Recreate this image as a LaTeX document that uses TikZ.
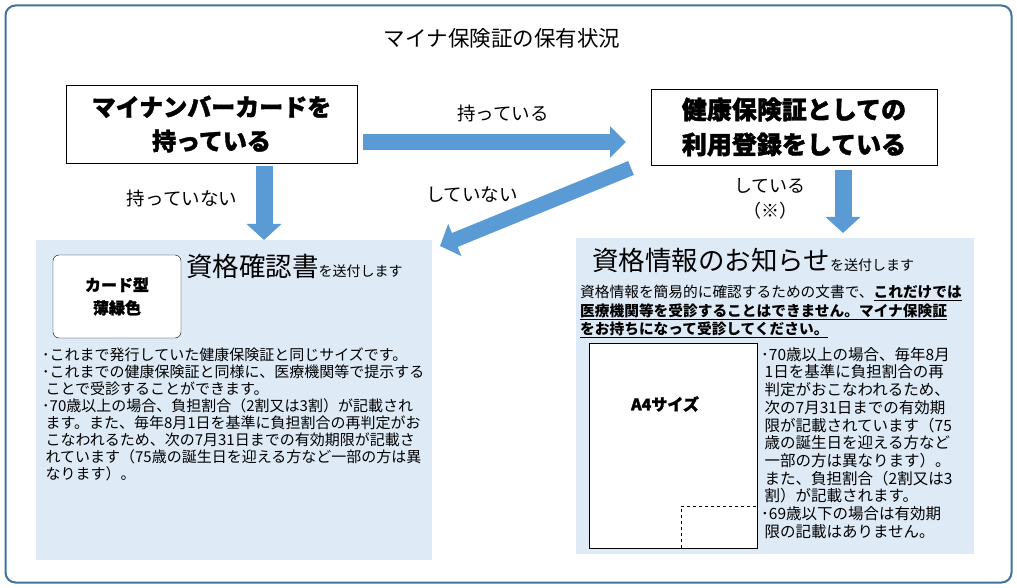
\documentclass[tikz,border=0pt]{standalone}
\usepackage{fontspec}
\setmainfont{Noto Sans CJK JP}
\usepackage{tikz}
\usetikzlibrary{arrows.meta, positioning}
\definecolor{frameblue}{HTML}{41719C}
\definecolor{arrowblue}{HTML}{5B9BD5}
\definecolor{panelblue}{HTML}{DEEBF7}
\newcommand{\heavy}{\bfseries\addfontfeatures{FakeBold=1.5}}
\tikzset{
x=1pt, y=-1pt, % one unit is one pixel of the reference, y grows downward
question/.style={draw, thick, fill=white, minimum width=291pt, minimum height=78pt, align=center, font=\fontsize{24}{34}\selectfont\heavy}, % the two question boxes
panel/.style={fill=panelblue, inner sep=0pt}, % light blue result panels
fatarrow/.style={draw=arrowblue, line width=17pt, -{Triangle[length=16pt, width=34pt]}}, % the thick blue arrows
answer/.style={font=\fontsize{18.5}{22}\selectfont, align=center}, % labels next to the arrows
bodytext/.style={anchor=north west, inner sep=0pt, align=left}, % bullet texts
}

\begin{document}
\begin{tikzpicture}
        \useasboundingbox (0,0) rectangle (1017,588);
        \node[draw=frameblue, line width=2pt, rounded corners=10pt, minimum width=1006pt, minimum height=577pt] (frame) at (508.5,294) {};
        \node[font=\fontsize{21.5}{24}\selectfont] (title) at (502,38) {マイナ保険証の保有状況};

        \node[question] (card) at (211.5,124) {マイナンバーカードを\\持っている};
        \node[question, minimum width=286pt, minimum height=76pt, font=\fontsize{25}{35}\selectfont\heavy] (regist) at (794,127) {健康保険証としての\\利用登録をしている};

        \node[panel, minimum width=396pt, minimum height=320pt] (left) at (234,400) {};
        \node[panel, minimum width=398pt, minimum height=316pt] (right) at (775,396) {};

        % arrows
        \coordinate (hasA) at (363,142);
        \coordinate (hasB) at (626,142);
        \coordinate (noA) at (264,166);
        \coordinate (noB) at (264,240);
        \coordinate (notA) at (631,168);
        \coordinate (notB) at (440,246);
        \coordinate (doneA) at (843,170);
        \coordinate (doneB) at (843,233);
        \draw[fatarrow, line width=16pt, -{Triangle[length=16pt, width=31pt]}] (hasA) -- (hasB);
        \draw[fatarrow] (noA) -- (noB);
        \draw[fatarrow, line width=15pt] (notA) -- (notB);
        \draw[fatarrow] (doneA) -- (doneB);
        \node[answer] (lhas) at (503,113) {持っている};
        \node[answer] (lno) at (182,198) {持っていない};
        \node[answer] (lnot) at (472,195) {していない};
        \node[answer, font=\fontsize{18}{25}\selectfont] (ldone) at (770,199) {している\\（※）};

        % left panel
        \node[draw, fill=white, rounded corners=6pt, minimum width=128pt, minimum height=83pt, align=center, font=\fontsize{16}{23}\selectfont\heavy] (greencard) at (117,296.5) {カード型\\薄緑色};
        \node[anchor=base west, inner sep=0pt] (certif) at (186,276) {{\fontsize{26.5}{26}\selectfont 資格確認書}{\fontsize{14}{14}\selectfont を送付します}};
        \node[bodytext, font=\fontsize{15}{17}\selectfont] (leftnote) at (42,347.5) {%
･これまで発行していた健康保険証と同じサイズです。\\
･これまでの健康保険証と同様に、医療機関等で提示する\\
\ ことで受診することができます。\\
･70歳以上の場合、負担割合（2割又は3割）が記載され\\
\ ます。また、毎年8月1日を基準に負担割合の再判定がお\\
\ こなわれるため、次の7月31日までの有効期限が記載さ\\
\ れています（75歳の誕生日を迎える方など一部の方は異\\
\ なります）。};

        % right panel
        \node[anchor=base west, inner sep=0pt] (notice) at (592,270) {{\fontsize{26.5}{26}\selectfont 資格情報のお知らせ}{\fontsize{14}{14}\selectfont を送付します}};
        \node[bodytext, font=\fontsize{14.7}{18.5}\selectfont] (rightlead) at (580,285) {%
資格情報を簡易的に確認するための文書で、\underline{\bfseries これだけでは}\\
\underline{\bfseries 医療機関等を受診することはできません。マイナ保険証}\\
\underline{\bfseries をお持ちになって受診してください。}};
        \node[draw, fill=white, minimum width=168pt, minimum height=205pt, inner sep=0pt] (a4) at (673,445.5) {};
        \node[font=\fontsize{16}{18}\selectfont\heavy] (a4label) at (665,404) {A4サイズ};
        \coordinate (stamp) at (681,506);
        \draw[dashed] (stamp |- a4.south) -- (stamp) -- (stamp -| a4.east);
        \node[bodytext, font=\fontsize{15.5}{17.7}\selectfont] (rightnote) at (761,347) {%
･70歳以上の場合、毎年8月\\
\ 1日を基準に負担割合の再\\
\ 判定がおこなわれるため、\\
\ 次の7月31日までの有効期\\
\ 限が記載されています（75\\
\ 歳の誕生日を迎える方など\\
\ 一部の方は異なります）。\\
\ また、負担割合（2割又は3\\
\ 割）が記載されます。\\
･69歳以下の場合は有効期\\
\ 限の記載はありません。};
      \end{tikzpicture}
\end{document}
